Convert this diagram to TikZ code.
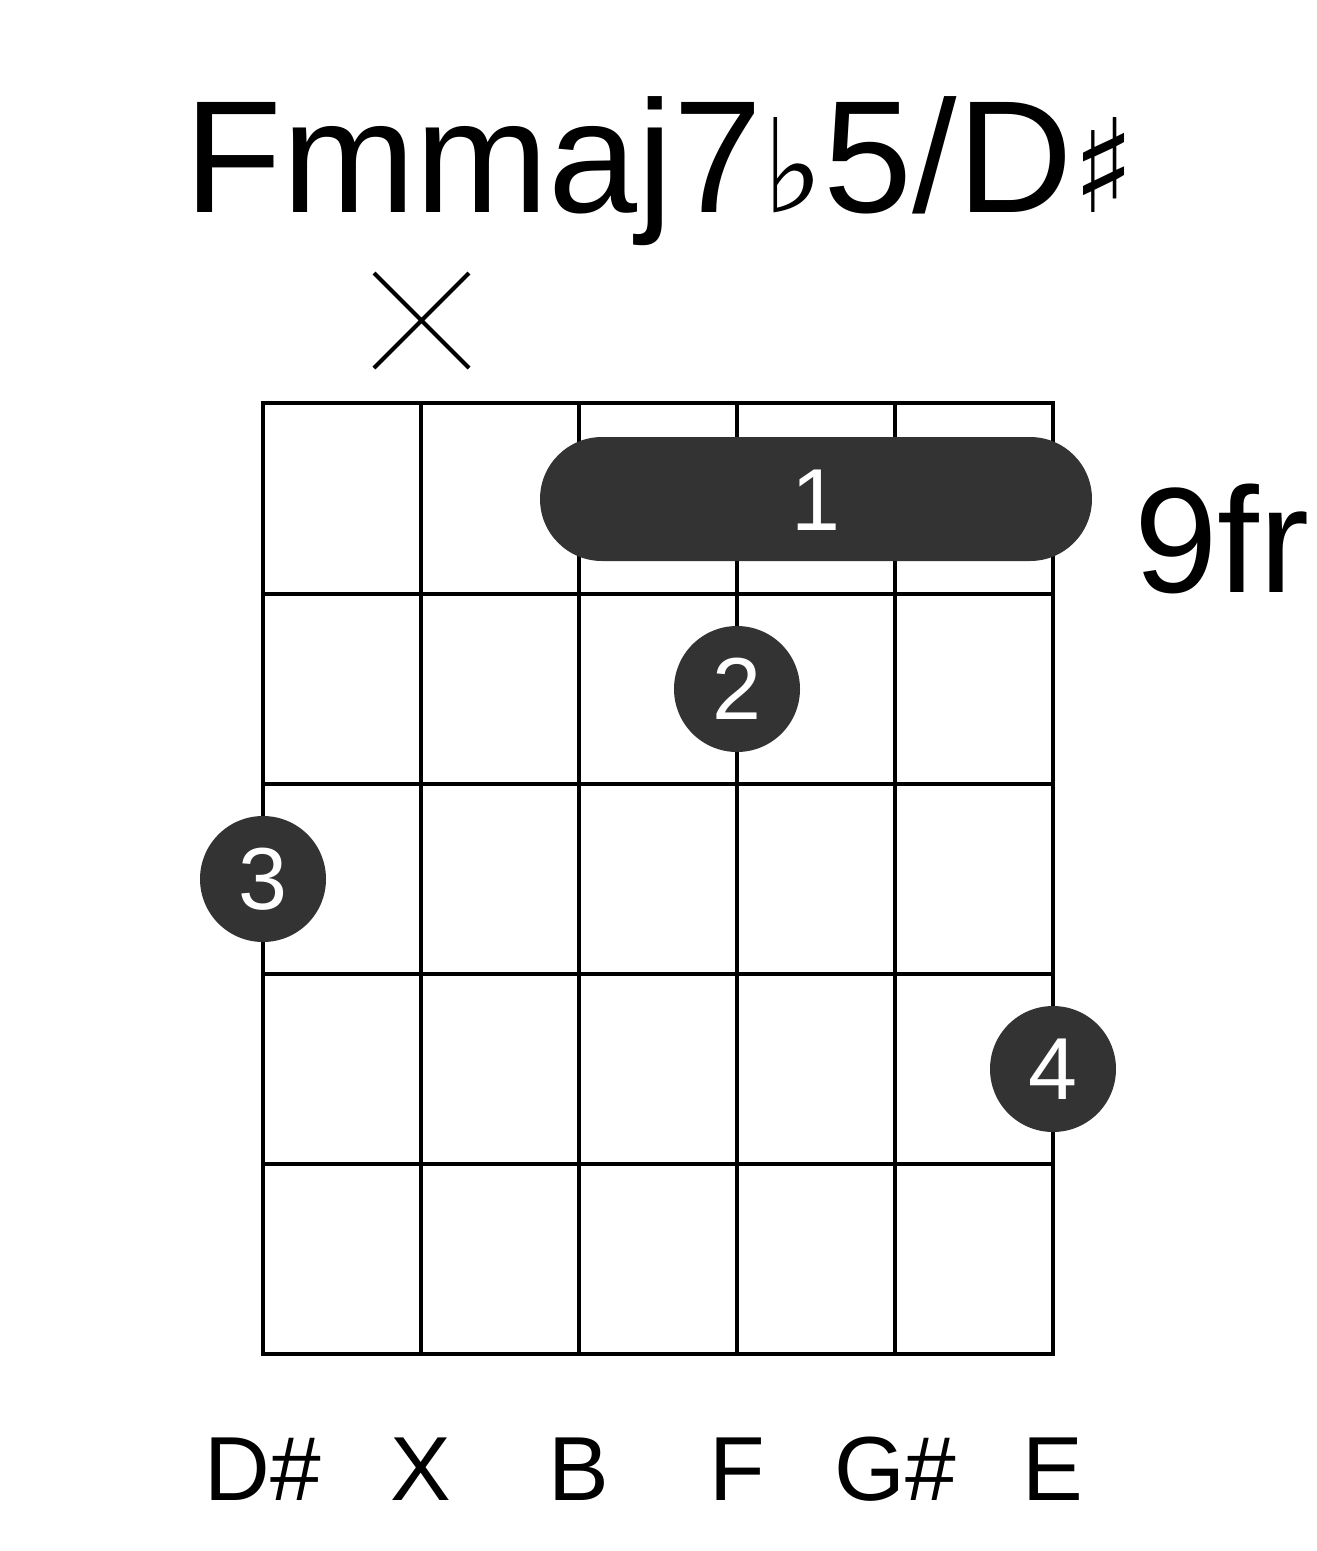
\documentclass[tikz,border=0pt]{standalone}
\usepackage{fontspec}
\setmainfont{Liberation Sans}
\newfontfamily\symfont{DejaVu Sans}
\definecolor{dotc}{HTML}{333333}
\begin{document}
\begin{tikzpicture}[x=1pt,y=-1pt,
  gridline/.style={line width=4pt,black},
  fdot/.style={circle,fill=dotc,minimum size=126pt,inner sep=0pt,text=white,font=\fontsize{88}{88}\selectfont},
  lab/.style={anchor=base,font=\fontsize{91}{91}\selectfont}]
\useasboundingbox (0,0) rectangle (1317,1551);
\foreach \x in {263,421,579,737,895,1053} \draw[gridline] (\x,403) -- (\x,1354);
\foreach \y in {403,594,784,974,1164,1354} \draw[gridline] (263,403) -- (1053,403) (263,\y) -- (1053,\y);
\draw[line width=4pt,line cap=rect] (263,403) rectangle (1053,1354);
\fill[dotc,rounded corners=62pt] (540,437) rectangle (1092,561);
\node[text=white,font=\fontsize{88}{88}\selectfont] (b1) at (816,500) {1};
\node[fdot] (d2) at (737,689) {2};
\node[fdot] (d3) at (263,879) {3};
\node[fdot] (d4) at (1053,1069) {4};
\draw[line width=4pt] (374,273) -- (469,368) (469,273) -- (374,368);
\node[anchor=base,font=\fontsize{160}{160}\selectfont] (title) at (660,212) {Fmmaj7{\symfont\fontsize{130}{130}\selectfont ♭}5/D{\symfont\fontsize{130}{130}\selectfont ♯}};
\node[anchor=base west,inner sep=0pt,font=\fontsize{150}{150}\selectfont] (fr) at (1134,592) {9fr};
\node[lab] (l1) at (263,1500) {D\#};
\node[lab] (l2) at (421,1500) {X};
\node[lab] (l3) at (579,1500) {B};
\node[lab] (l4) at (737,1500) {F};
\node[lab] (l5) at (895,1500) {G\#};
\node[lab] (l6) at (1053,1500) {E};
\end{tikzpicture}
\end{document}
